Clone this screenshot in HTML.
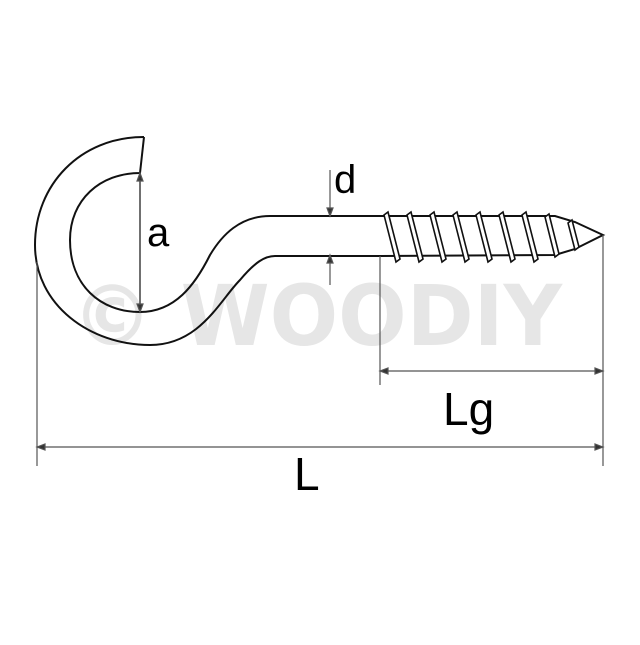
<!DOCTYPE html>
<html><head><meta charset="utf-8"><style>html,body{margin:0;padding:0;background:#fff}</style></head>
<body>
<svg width="640" height="640" viewBox="0 0 640 640" xmlns="http://www.w3.org/2000/svg">
<rect width="640" height="640" fill="#fff"/>
<text x="72" y="345" font-family="DejaVu Sans, sans-serif" font-weight="bold" font-size="84" fill="#e6e6e6" textLength="490" lengthAdjust="spacingAndGlyphs">© WOODIY</text>
<g fill="none" stroke="#111" stroke-width="2">
<path d="M144,137 C80,137 35,185 35,245 C35,305 90,345 150,345 C200,345 220,300 240,280 C255,262 265,256 275,256 L380,256"/>
<path d="M380,216 L270,216 C240,216 222,235 210,255 C195,285 175,312 140,312 C100,312 70,285 70,240 C70,200 100,173 140,173 L144,137"/>
<path d="M380,216 L555,216 L575,222 L603,235 L575,249 L555,255 L380,256"/>
</g>
<g fill="#fff" stroke="#111" stroke-width="1.6">
<path d="M384,215 l4,-3 l12,47 l-4,3 z"/><path d="M407,215 l4,-3 l12,47 l-4,3 z"/><path d="M430,215 l4,-3 l12,47 l-4,3 z"/><path d="M453,215 l4,-3 l12,47 l-4,3 z"/><path d="M476,215 l4,-3 l12,47 l-4,3 z"/><path d="M499,215 l4,-3 l12,47 l-4,3 z"/><path d="M522,215 l4,-3 l12,47 l-4,3 z"/><path d="M545,217 l4,-3 l10,40 l-4,3 z"/><path d="M568,223 l4,-3 l7,27 l-4,3 z"/>
</g>
<g stroke="#555" stroke-width="1.2" fill="#333">
<line x1="37" y1="262" x2="37" y2="466"/><line x1="603" y1="235" x2="603" y2="466"/>
<line x1="380" y1="256" x2="380" y2="385"/>
<line x1="37" y1="447" x2="603" y2="447"/><line x1="380" y1="371" x2="603" y2="371"/>
<line x1="140" y1="173" x2="140" y2="312" stroke="#111"/>
<line x1="330" y1="170" x2="330" y2="216"/><line x1="330" y1="255" x2="330" y2="285"/>
<path d="M37,447 l8,-3 v6 z M603,447 l-8,-3 v6 z M380,371 l8,-3 v6 z M603,371 l-8,-3 v6 z M140,173 l-3,8 h6 z M140,312 l-3,-8 h6 z M330,216 l-3,-8 h6 z M330,255 l-3,8 h6 z"/>
</g>
<g font-family="Liberation Sans, sans-serif" fill="#000">
<text x="147" y="246" font-size="40">a</text>
<text x="334" y="193" font-size="40">d</text>
<text x="443" y="425" font-size="46">Lg</text>
<text x="294" y="490" font-size="46">L</text>
</g>
</svg>
</body></html>
